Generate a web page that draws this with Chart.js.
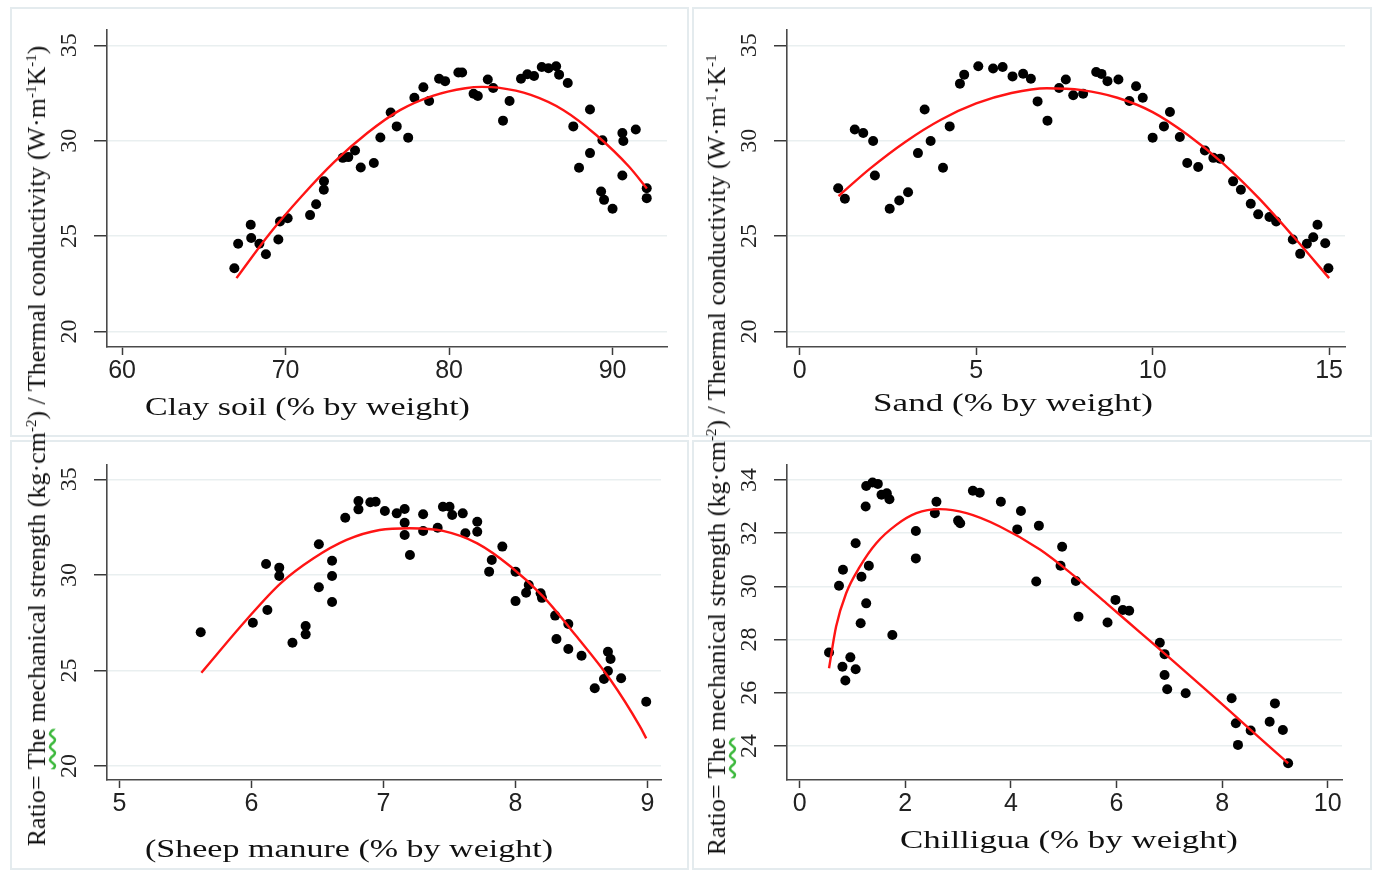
<!DOCTYPE html>
<html><head><meta charset="utf-8">
<script src="https://cdn.jsdelivr.net/npm/chart.js@4.4.1/dist/chart.umd.min.js"></script>
<style>
html,body{margin:0;padding:0;background:#fff;}
body{width:1375px;height:872px;position:relative;overflow:hidden;font-family:'Liberation Serif','Times New Roman',serif;color:#111;}
.box{position:absolute;border:2px solid #e4ebee;box-sizing:border-box;}
.pane{position:absolute;}
.xt{position:absolute;font-size:26px;white-space:nowrap;transform-origin:0 50%;line-height:1;}
.yt{position:absolute;font-size:26px;white-space:nowrap;line-height:1;}
.yt sup{font-size:15px;vertical-align:9px;line-height:0;}
.sq{text-decoration:underline wavy #3cb83c;text-decoration-skip-ink:none;text-underline-offset:3px;}
</style></head>
<body>
<div class="box" style="left:10px;top:7px;width:679px;height:430px"></div>
<div class="box" style="left:692px;top:7px;width:680px;height:430px"></div>
<div class="box" style="left:10px;top:440px;width:679px;height:430px"></div>
<div class="box" style="left:692px;top:440px;width:680px;height:430px"></div>

<div class="pane" style="left:0;top:0;width:690px;height:437px"><canvas id="c1" width="690" height="437"></canvas></div>
<div class="pane" style="left:690px;top:0;width:685px;height:437px"><canvas id="c2" width="685" height="437"></canvas></div>
<div class="pane" style="left:0;top:437px;width:690px;height:435px"><canvas id="c3" width="690" height="435"></canvas></div>
<div class="pane" style="left:690px;top:437px;width:685px;height:435px"><canvas id="c4" width="685" height="435"></canvas></div>

<div class="xt" id="t1" style="left:145px;top:394px">Clay soil (% by weight)</div>
<div class="xt" id="t2" style="left:873px;top:390px">Sand (% by weight)</div>
<div class="xt" id="t3" style="left:145px;top:836px">(Sheep manure (% by weight)</div>
<div class="xt" id="t4" style="left:900px;top:827px">Chilligua (% by weight)</div>

<div class="yt" id="y1" style="left:37px;top:446px;transform:translate(-50%,-50%) rotate(-90deg)">Ratio= <span class="sq">The</span> mechanical strength (kg·cm<sup>-2</sup>) / Thermal conductivity (W·m<sup>-1</sup>K<sup>-1</sup>)</div>
<div class="yt" id="y2" style="left:717px;top:455px;transform:translate(-50%,-50%) rotate(-90deg)">Ratio= <span class="sq">The</span> mechanical strength (kg·cm<sup>-2</sup>) / Thermal conductivity (W·m<sup>-1</sup>·K<sup>-1</sup></div>

<script>
// ---------- Data ----------
// Panel 1: Clay soil
const clayX = [66.87,67.1,67.87,67.9,68.4,68.8,69.56,69.66,70.13,71.5,71.87,72.34,72.35,73.5,73.84,74.25,74.6,75.4,75.8,76.43,76.8,77.5,77.88,78.43,78.78,79.39,79.76,80.57,80.8,81.5,81.76,82.37,82.7,83.3,83.7,84.4,84.79,85.2,85.67,86.08,86.55,86.73,87.26,87.6,87.95,88.62,88.62,89.3,89.38,89.48,90.0,90.6,90.6,90.66,91.42,92.09,92.09];
const clayY = [23.32,24.6,25.6,24.9,24.6,24.05,24.82,25.77,25.94,26.1,26.67,27.43,27.87,29.1,29.14,29.49,28.6,28.83,30.17,31.48,30.75,30.16,32.25,32.8,32.08,33.25,33.12,33.57,33.57,32.46,32.34,33.21,32.76,31.05,32.08,33.25,33.48,33.39,33.86,33.8,33.9,33.46,33.02,30.75,28.58,31.63,29.35,27.34,30.02,26.9,26.43,28.18,30.4,29.98,30.59,27.51,26.99];
const clayFitX = [67,69,71,73,75,77,79,81,82,83,85,87,89,91,92.1];
const clayFitY = [22.8,25.1,27.1,28.9,30.4,31.6,32.35,32.75,32.82,32.78,32.4,31.6,30.3,28.65,27.5];

// Panel 2: Sand
const sandX = [1.09,1.28,1.56,1.8,2.08,2.13,2.55,2.82,3.07,3.35,3.54,3.71,4.06,4.25,4.54,4.66,5.06,5.48,5.75,6.03,6.33,6.55,6.74,7.02,7.35,7.54,7.75,8.03,8.4,8.55,8.72,9.03,9.34,9.53,9.72,10.0,10.32,10.49,10.77,10.98,11.29,11.48,11.72,11.91,12.28,12.5,12.78,12.99,13.31,13.5,13.97,14.18,14.37,14.55,14.67,14.89,14.98];
const sandY = [27.51,26.96,30.59,30.4,29.98,28.18,26.43,26.87,27.3,29.35,31.63,29.98,28.58,30.75,32.99,33.46,33.9,33.78,33.86,33.37,33.51,33.25,32.06,31.05,32.76,33.21,32.38,32.46,33.6,33.5,33.12,33.21,32.08,32.85,32.25,30.16,30.75,31.5,30.19,28.83,28.62,29.49,29.1,29.05,27.87,27.43,26.7,26.14,26.0,25.77,24.82,24.07,24.6,24.94,25.6,24.63,23.32];
const sandFitX = [1.1,2,3,4,5,6,7,8,9,10,11,12,13,14,15];
const sandFitY = [27.1,28.55,29.95,31.1,31.95,32.5,32.75,32.65,32.25,31.5,30.3,28.8,27.0,24.95,22.8];

// Panel 3: Sheep manure
const sheepX = [5.615,6.01,6.11,6.12,6.21,6.21,6.31,6.41,6.41,6.51,6.51,6.61,6.61,6.61,6.71,6.81,6.81,6.9,6.94,7.01,7.1,7.16,7.16,7.16,7.2,7.3,7.3,7.41,7.45,7.5,7.52,7.6,7.62,7.71,7.71,7.8,7.82,7.9,8.0,8.0,8.08,8.1,8.19,8.2,8.3,8.31,8.4,8.4,8.5,8.6,8.67,8.7,8.7,8.72,8.8,8.99];
const sheepY = [27.0,27.5,30.57,28.16,30.38,29.94,26.45,27.33,26.89,31.6,29.35,30.74,29.94,28.58,32.99,33.87,33.43,33.8,33.83,33.34,33.22,33.45,32.73,32.09,31.04,33.17,32.3,32.47,33.57,33.57,33.13,33.22,32.18,32.78,32.26,30.17,30.78,31.48,30.17,28.63,29.07,29.47,29.04,28.8,27.87,26.65,27.43,26.12,25.77,24.07,24.55,25.98,24.97,25.6,24.59,23.36];
const sheepFitX = [5.62,5.96,6.22,6.47,6.72,6.97,7.2,7.45,7.71,7.96,8.21,8.46,8.72,8.94,8.99];
const sheepFitY = [24.88,27.64,29.56,30.87,31.83,32.35,32.44,32.3,31.65,30.45,28.86,26.8,24.5,22.1,21.45];

// Panel 4: Chilligua
const chilX = [0.556,0.745,0.81,0.82,0.865,0.96,1.06,1.06,1.155,1.17,1.25,1.26,1.26,1.31,1.38,1.48,1.55,1.65,1.7,1.755,2.2,2.2,2.56,2.59,3.0,3.04,3.28,3.41,3.81,4.12,4.19,4.48,4.53,4.94,4.97,5.23,5.28,5.83,5.98,6.12,6.24,6.82,6.91,6.91,6.96,7.31,8.18,8.26,8.3,8.54,8.9,9.0,9.15,9.25];
const chilY = [27.51,30.02,26.98,30.62,26.46,27.33,26.88,31.62,28.61,30.36,33.0,29.36,33.77,30.77,33.9,33.85,33.44,33.5,33.27,28.17,32.08,31.05,32.75,33.18,32.47,32.37,33.59,33.52,33.18,32.14,32.83,30.18,32.28,30.77,31.49,30.2,28.86,28.64,29.49,29.11,29.08,27.88,27.45,26.67,26.13,25.98,25.79,24.85,24.04,24.58,24.91,25.6,24.6,23.35];
const chilFitX = [0.556,0.69,0.88,1.14,1.45,1.83,2.21,2.65,3.16,3.79,4.55,5.18,5.81,6.44,7.07,7.7,8.33,8.96,9.25];
const chilFitY = [26.92,28.49,29.74,30.74,31.62,32.31,32.75,32.9,32.75,32.25,31.38,30.42,29.36,28.28,27.2,26.1,24.98,23.86,23.35];

// Tick labels
const clayTicks = [60,70,80,90];
const sandTicks = [0,5,10,15];
const sheepTicks = [5,6,7,8,9];
const chilTicks = [0,2,4,6,8,10];
const ratioTicks = [20,25,30,35];
const chilRatioTicks = [24,26,28,30,32,34];

// ---------- Drawing ----------
const pts = (X, Y) => X.map((v, i) => ({x: v, y: Y[i]}));

function panel(id, p) {
  const setTicks = arr => s => { s.ticks = arr.map(v => ({value: v})); };
  new Chart(document.getElementById(id), {
    type: 'scatter',
    data: {datasets: [
      {type: 'line', data: pts(p.fx, p.fy), showLine: true, borderColor: '#ff1414', borderWidth: 2.4,
       pointRadius: 0, cubicInterpolationMode: 'monotone', fill: false},
      {data: pts(p.x, p.y), backgroundColor: '#000', borderColor: '#000', pointRadius: 5, borderWidth: 0}
    ]},
    options: {
      responsive: false, animation: false, events: [],
      layout: {padding: {top: p.pt, right: p.pr, left: 0, bottom: 0}},
      plugins: {legend: {display: false}, tooltip: {enabled: false}},
      scales: {
        x: {type: 'linear', min: p.xmin, max: p.xmax, afterBuildTicks: setTicks(p.xt),
            afterFit: s => { s.height = p.xh; },
            grid: {drawOnChartArea: false, drawTicks: true, tickLength: 8, tickColor: '#3a3a3a', tickWidth: 1.5},
            border: {color: '#4a4a4a', width: 1.6},
            ticks: {font: {family: 'Liberation Sans', size: 25}, color: '#222', padding: 1, minRotation: 0, maxRotation: 0}},
        y: {type: 'linear', min: p.ymin, max: p.ymax, afterBuildTicks: setTicks(p.yt),
            afterFit: s => { s.width = p.yw; },
            grid: {color: '#e9eff0', lineWidth: 1.5, tickLength: 13, tickColor: '#3a3a3a', tickWidth: 1.5},
            border: {color: '#4a4a4a', width: 1.6},
            ticks: {font: {family: 'Liberation Sans Narrow', size: 24}, color: '#222', minRotation: 90, maxRotation: 90,
                    crossAlign: 'center', padding: 12}}
      }
    }
  });
}

panel('c1', {x: clayX, y: clayY, fx: clayFitX, fy: clayFitY, xt: clayTicks, yt: ratioTicks,
  xmin: 59.08, xmax: 93.33, ymin: 19.19, ymax: 35.8, pt: 30, pr: 23, yw: 107, xh: 90});
panel('c2', {x: sandX, y: sandY, fx: sandFitX, fy: sandFitY, xt: sandTicks, yt: ratioTicks,
  xmin: -0.36, xmax: 15.45, ymin: 19.19, ymax: 35.8, pt: 30, pr: 30, yw: 97, xh: 90});
panel('c3', {x: sheepX, y: sheepY, fx: sheepFitX, fy: sheepFitY, xt: sheepTicks, yt: ratioTicks,
  xmin: 4.905, xmax: 9.102, ymin: 19.27, ymax: 35.75, pt: 28, pr: 29, yw: 107, xh: 92});
panel('c4', {x: chilX, y: chilY, fx: chilFitX, fy: chilFitY, xt: chilTicks, yt: chilRatioTicks,
  xmin: -0.24, xmax: 10.27, ymin: 22.72, ymax: 34.56, pt: 28, pr: 33, yw: 97, xh: 92});

// stretch x-axis titles horizontally like the reference
[['t1',325],['t2',280],['t3',408],['t4',338]].forEach(([id,w]) => {
  const el = document.getElementById(id);
  el.style.transform = 'scaleX(' + (w / el.getBoundingClientRect().width).toFixed(3) + ')';
});
</script>
</body></html>
